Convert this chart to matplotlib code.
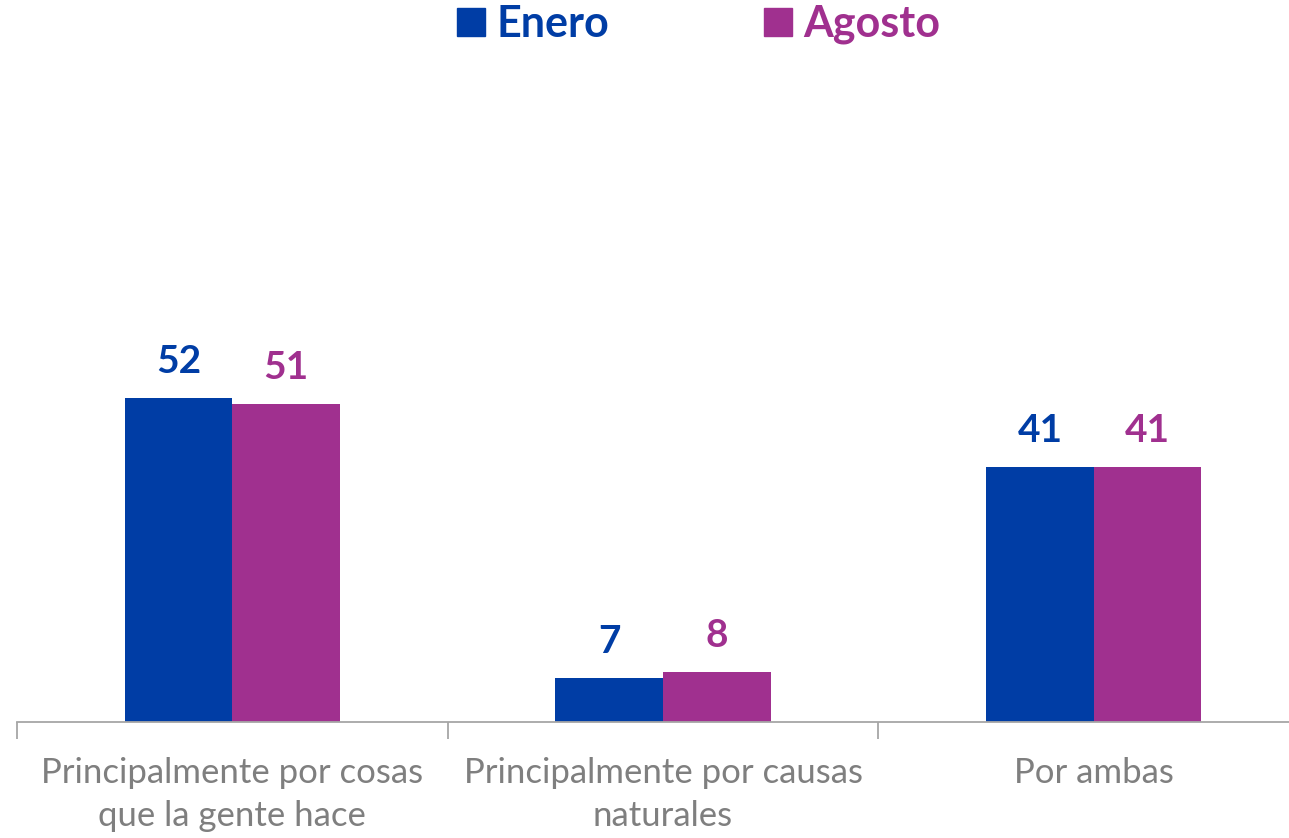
import matplotlib.pyplot as plt
import numpy as np
from matplotlib.patches import Patch

# --- datos ---
categorias = ["Principalmente por cosas\nque la gente hace",
              "Principalmente por causas\nnaturales",
              "Por ambas"]
enero = [52, 7, 41]
agosto = [51, 8, 41]

AZUL = "#003DA5"
MORADO = "#A0308F"
GRIS = "#7F7F7F"

plt.rcParams['font.family'] = ['Lato', 'DejaVu Sans']

W, H = 1289, 838
fig = plt.figure(figsize=(W / 100, H / 100), dpi=100)
# eje más ancho que la figura: el último tramo queda recortado como en el original
ax = fig.add_axes([17 / W, 116 / H, 1292 / W, 662 / H])

x = np.arange(len(categorias))
ancho = 0.25
b1 = ax.bar(x - ancho / 2, enero, ancho, color=AZUL, label="Enero")
b2 = ax.bar(x + ancho / 2, agosto, ancho, color=MORADO, label="Agosto")

for barras, col in ((b1, AZUL), (b2, MORADO)):
    for b in barras:
        ax.annotate(str(int(b.get_height())),
                    (b.get_x() + b.get_width() / 2, b.get_height()),
                    xytext=(0, 19), textcoords="offset pixels",
                    ha="center", va="bottom", fontsize=28,
                    fontweight="bold", color=col)

ax.set_xlim(-0.5, 2.5)
ax.set_ylim(0, 662 / 6.23)
for s in ("top", "right", "left"):
    ax.spines[s].set_visible(False)
ax.spines["bottom"].set_color("#A6A6A6")
ax.spines["bottom"].set_linewidth(1.3)
ax.set_yticks([])

ax.set_xticks(x)
ax.set_xticklabels(categorias, fontsize=25, color=GRIS, linespacing=1.42)
ax.tick_params(axis="x", length=0, pad=25)
ax.set_xticks([-0.5, 0.5, 1.5, 2.5], minor=True)
ax.tick_params(axis="x", which="minor", length=12, color="#A6A6A6", width=1.3)

handles = [Patch(color=AZUL), Patch(color=MORADO)]
leg = fig.legend(handles, ["Enero", "Agosto"], loc="center",
                 bbox_to_anchor=(699 / W, 1 - 24 / H), ncol=2,
                 frameon=False, handlelength=0.63, handleheight=0.63,
                 handletextpad=0.28, columnspacing=3.6,
                 prop={"size": 31, "weight": "bold"})
for t, c in zip(leg.get_texts(), (AZUL, MORADO)):
    t.set_color(c)

fig.savefig("out.png", dpi=100)
